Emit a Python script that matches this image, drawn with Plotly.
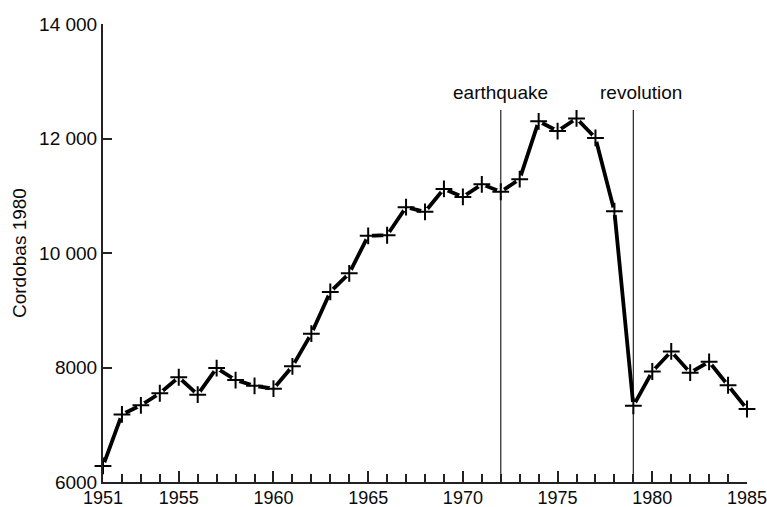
import plotly.graph_objects as go

years = list(range(1951, 1986))
gdp = [6280, 7180, 7340, 7550, 7830, 7525, 7990, 7780, 7680, 7630,
       8020, 8590, 9320, 9645, 10300, 10310, 10800, 10720, 11120, 10980,
       11200, 11070, 11290, 12300, 12130, 12350, 12010, 10730, 7330, 7930,
       8280, 7910, 8100, 7690, 7275]

x_label_years = [1951, 1955, 1960, 1965, 1970, 1975, 1980, 1985]
y_tick_vals = [6000, 8000, 10000, 12000, 14000]
y_tick_text = ["6000", "8000", "10 000", "12 000", "14 000"]

event_years = [1972, 1979]
event_labels = ["earthquake", "revolution"]
event_label_x = [1972, 1979.4]
event_line_top = 12500
event_label_y = 12800

FONT = "Liberation Sans, Arial, Helvetica, sans-serif"
TXT = "#0a0a0a"

FIG_W, FIG_H = 767, 507
ML, MR, MT, MB = 103, 20, 24, 25
PLOT_W = FIG_W - ML - MR

fig = go.Figure()

# event lines
for ey in event_years:
    fig.add_shape(type="line", xref="x", yref="y", x0=ey, x1=ey,
                  y0=y_tick_vals[0], y1=event_line_top,
                  line=dict(color="#333333", width=1.3), layer="below")

fig.add_trace(go.Scatter(x=years, y=gdp, mode="lines",
                         line=dict(color="black", width=3.8),
                         cliponaxis=False, hoverinfo="skip", showlegend=False))
fig.add_trace(go.Scatter(x=years, y=gdp, mode="markers",
                         marker=dict(symbol="circle", size=8, color="white",
                                     line=dict(width=0)),
                         cliponaxis=False, hoverinfo="skip", showlegend=False))
fig.add_trace(go.Scatter(x=years, y=gdp, mode="markers",
                         marker=dict(symbol="cross-thin", size=12,
                                     line=dict(color="black", width=2)),
                         cliponaxis=False, showlegend=False))

for lx, lt in zip(event_label_x, event_labels):
    fig.add_annotation(x=lx, y=event_label_y, xref="x", yref="y", text=lt,
                       showarrow=False, xanchor="center", yanchor="middle",
                       font=dict(family=FONT, size=19, color=TXT))

fig.add_annotation(x=(19 - ML) / PLOT_W, y=0.5, xref="paper", yref="paper",
                   text="Cordobas 1980", textangle=-90, showarrow=False,
                   xanchor="center", yanchor="middle",
                   font=dict(family=FONT, size=19, color=TXT))

fig.update_layout(
    template="none",
    width=FIG_W, height=FIG_H,
    margin=dict(l=ML, r=MR, t=MT, b=MB, autoexpand=False),
    paper_bgcolor="white", plot_bgcolor="white",
    font=dict(family=FONT, size=19, color=TXT),
    xaxis=dict(range=[1951, 1985], tickvals=x_label_years,
               ticktext=[str(v) for v in x_label_years],
               ticks="inside", ticklen=11, tickwidth=1.5, tickcolor="#222222",
               minor=dict(ticks="inside", ticklen=8, tickwidth=1.5,
                          tickcolor="#222222", dtick=1, tick0=1951,
                          showgrid=False),
               showline=True, linecolor="#222222", linewidth=2,
               showgrid=False, zeroline=False, automargin=False,
               ticklabeloverflow="allow", ticklabelstandoff=-2,
               tickfont=dict(family=FONT, size=18, color=TXT)),
    yaxis=dict(range=[6000, 14000], tickvals=y_tick_vals, ticktext=y_tick_text,
               ticks="inside", ticklen=9, tickwidth=1.5, tickcolor="#222222",
               showline=True, linecolor="#222222", linewidth=2,
               showgrid=False, zeroline=False, automargin=False,
               ticklabeloverflow="allow",
               tickfont=dict(family=FONT, size=19, color=TXT)),
)

fig.write_html("out.html",
               config={"displayModeBar": False},
               post_script="document.body.style.margin='0';"
                           "document.documentElement.style.overflow='hidden';")
